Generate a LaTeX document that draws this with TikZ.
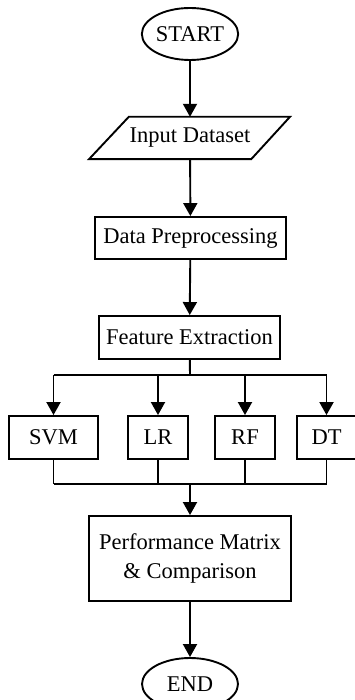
\documentclass[tikz,border=0pt]{standalone}
\usepackage{fontspec}
\setmainfont{Liberation Serif}
\usetikzlibrary{shapes.geometric,arrows.meta}
\begin{document}
\begin{tikzpicture}[x=1pt,y=-1pt,
  every node/.style={font=\fontsize{22.5}{29}\selectfont, inner sep=0pt, align=center},
  line/.style={line width=1.9pt, draw=black},
  arr/.style={line, -{Triangle[length=13pt,width=14pt]}},
  term/.style={ellipse, line, minimum width=96pt, minimum height=52pt},
  proc/.style={rectangle, line, minimum height=43pt}]
\useasboundingbox[fill=white] (0,0) rectangle (355,700);
\node[term] (start) at (190,34) {START};
\node[minimum width=160pt, minimum height=42pt] (input) at (190,138) {Input Dataset};
\draw[line, line join=miter] ([xshift=19pt]input.north west) -- ([xshift=100pt]input.north) -- ([xshift=-19pt]input.south east) -- ([xshift=-101pt]input.south) -- cycle;
\node[proc, minimum width=191pt, minimum height=42pt] (prep) at (190.5,238) {Data Preprocessing};
\node[proc, minimum width=181pt] (feat) at (189.5,337.5) {Feature Extraction};
\node[proc, minimum width=89pt] (svm) at (53.5,437.5) {SVM};
\node[proc, minimum width=60pt] (lr) at (158,437.5) {LR};
\node[proc, minimum width=60pt] (rf) at (245,437.5) {RF};
\node[proc, minimum width=59pt] (dt) at (326.5,437.5) {DT};
\node[proc, minimum width=202pt, minimum height=85pt] (perf) at (190,558.5) {Performance Matrix\\\& Comparison};
\node[term] (end) at (190,684) {END};
\coordinate (split) at (190,375);
\coordinate (merge) at (190,484);
\draw[arr] (start) -- (input);
\draw[arr] (input) -- (prep);
\draw[arr] (prep) -- (feat);
\draw[line] (feat) -- (split);
\draw[line] (svm.north |- split) -- (dt.north |- split);
\foreach \b in {svm,lr,rf,dt} {
  \draw[arr] (\b.north |- split) -- (\b.north);
  \draw[line] (\b.south) -- (\b.south |- merge);
}
\draw[line] (svm.south |- merge) -- (dt.south |- merge);
\draw[arr] (merge) -- (perf);
\draw[arr] (perf) -- (end);
\end{tikzpicture}
\end{document}
